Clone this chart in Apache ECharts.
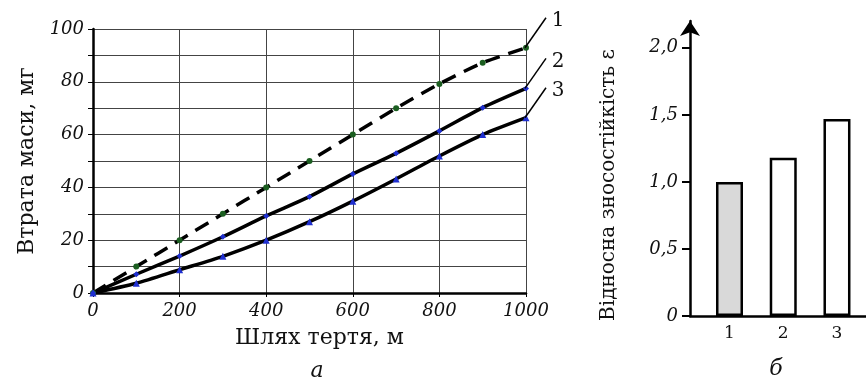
<!DOCTYPE html>
<html>
<head>
<meta charset="utf-8">
<script src="https://cdn.jsdelivr.net/npm/echarts@6/dist/echarts.min.js"></script>
<style>
  html, body { margin: 0; padding: 0; background: #fff; }
  #main { width: 866px; height: 381px; }
</style>
</head>
<body>
<div id="main"></div>
<script>
// шлях тертя, м
var distance = [0, 100, 200, 300, 400, 500, 600, 700, 800, 900, 1000];
// втрата маси, мг
var loss1 = [0, 10, 20, 30, 40, 50, 60, 70, 79.2, 87.2, 92.9];
var loss2 = [0, 7.1, 14.0, 21.3, 29.2, 36.5, 45.1, 52.9, 61.4, 70.2, 77.5];
var loss3 = [0, 3.7, 8.8, 13.9, 20.0, 27.0, 34.8, 43.2, 51.9, 60.0, 66.4];
var curveNames = ['1', '2', '3'];

// відносна зносостійкість
var barCats = [1, 2, 3];
var barValues = [1.0, 1.18, 1.47];
var barFills = ['#d9d9d9', '#ffffff', '#ffffff'];

var leftYLabels = [0, 20, 40, 60, 80, 100];
var rightYLabels = [0, 0.5, 1, 1.5, 2];

var serif = 'DejaVu Serif';

function pairs(xs, ys) {
  return xs.map(function (x, i) { return [x, ys[i]]; });
}

var chart = echarts.init(document.getElementById('main'));

var option = {
  animation: false,
  backgroundColor: '#fff',
  grid: [
    { left: 93, top: 29, width: 433, height: 264 },
    { left: 690, top: 21, width: 176, height: 295 }
  ],
  xAxis: [{
    gridIndex: 0,
    type: 'value',
    min: 0,
    max: 1000,
    interval: 200,
    name: 'Шлях тертя, м',
    nameLocation: 'middle',
    nameGap: 34,
    nameTextStyle: { fontFamily: serif, fontSize: 22, color: '#111', padding: [0, 0, 0, 20] },
    axisLine: { lineStyle: { color: '#000', width: 2.5 } },
    axisTick: { show: true, length: 4, lineStyle: { color: '#000', width: 1 } },
    axisLabel: {
      margin: 9, fontFamily: serif, fontStyle: 'italic', fontSize: 18, color: '#111',
      formatter: function (v) { return String(v); }
    },
    splitLine: { show: true, lineStyle: { color: '#444', width: 1 } }
  }, {
    gridIndex: 1,
    type: 'value',
    min: 0.265,
    max: 3.54,
    axisLine: { lineStyle: { color: '#000', width: 2.5 } },
    axisTick: { show: false },
    axisLabel: {
      customValues: barCats,
      margin: 9,
      fontFamily: serif,
      fontSize: 17,
      color: '#111'
    },
    splitLine: { show: false }
  }],
  yAxis: [{
    gridIndex: 0,
    type: 'value',
    min: 0,
    max: 100,
    interval: 10,
    name: 'Втрата маси, мг',
    nameLocation: 'middle',
    nameGap: 55,
    nameTextStyle: { fontFamily: serif, fontSize: 22, color: '#111' },
    axisLine: { show: true, lineStyle: { color: '#000', width: 2.5 } },
    axisTick: { show: true, length: 5, lineStyle: { color: '#000', width: 1 } },
    axisLabel: {
      customValues: leftYLabels,
      margin: 9,
      fontFamily: serif,
      fontStyle: 'italic',
      fontSize: 18,
      color: '#111'
    },
    splitLine: { show: true, lineStyle: { color: '#444', width: 1 } }
  }, {
    gridIndex: 1,
    type: 'value',
    min: 0,
    max: 2.2,
    axisLine: {
      show: true,
      symbol: ['none', 'arrow'],
      symbolSize: [15, 15],
      lineStyle: { color: '#000', width: 2.5 }
    },
    axisTick: {
      show: true,
      customValues: rightYLabels,
      length: 8,
      lineStyle: { color: '#000', width: 2 }
    },
    axisLabel: {
      customValues: rightYLabels,
      margin: 12,
      fontFamily: serif,
      fontStyle: 'italic',
      fontSize: 18,
      color: '#111',
      formatter: function (v) {
        return v === 0 ? '0' : v.toFixed(1).replace('.', ',');
      }
    },
    splitLine: { show: false }
  }],
  series: [{
    name: curveNames[0],
    type: 'line',
    smooth: 0.25,
    data: pairs(distance, loss1),
    symbol: 'circle',
    symbolSize: 6,
    itemStyle: { color: '#1b5e20' },
    lineStyle: { color: '#000', width: 3.5, type: [15, 9] },
    z: 3
  }, {
    name: curveNames[1],
    type: 'line',
    smooth: 0.25,
    data: pairs(distance, loss2),
    symbol: 'diamond',
    symbolSize: 6,
    itemStyle: { color: '#1f2fd0' },
    lineStyle: { color: '#000', width: 3.5 },
    z: 3
  }, {
    name: curveNames[2],
    type: 'line',
    smooth: 0.25,
    data: pairs(distance, loss3),
    symbol: 'triangle',
    symbolSize: 7,
    itemStyle: { color: '#1f2fd0' },
    lineStyle: { color: '#000', width: 3.5 },
    z: 3
  }, {
    type: 'bar',
    xAxisIndex: 1,
    yAxisIndex: 1,
    barWidth: 27,
    data: barCats.map(function (c, i) {
      return { value: [c, barValues[i]], itemStyle: { color: barFills[i] } };
    }),
    itemStyle: { borderColor: '#000', borderWidth: 2.5 }
  }]
};

chart.setOption(option);

// виноски з номерами кривих
var lastVals = [loss1, loss2, loss3].map(function (s) { return s[s.length - 1]; });
var graphics = [];
lastVals.forEach(function (v, i) {
  var p = chart.convertToPixel({ gridIndex: 0 }, [distance[distance.length - 1], v]);
  var ex = p[0] + 20, ey = p[1] - 30;
  graphics.push({
    type: 'line',
    shape: { x1: p[0] - 1, y1: p[1], x2: ex, y2: ey },
    style: { stroke: '#000', lineWidth: 1.5 },
    z: 10
  });
  graphics.push({
    type: 'text',
    x: ex + 12,
    y: ey + 3,
    style: {
      text: curveNames[i],
      font: '20px "DejaVu Serif"',
      fill: '#111',
      align: 'center',
      verticalAlign: 'middle'
    },
    z: 10
  });
});
graphics.push({
  type: 'text', x: 609, y: 185, rotation: Math.PI / 2,
  style: {
    text: 'Відносна зносостійкість ε', font: '20px "DejaVu Serif"', fill: '#111',
    align: 'center', verticalAlign: 'middle'
  }
});
graphics.push({
  type: 'text', x: 317, y: 371,
  style: { text: 'а', font: 'italic 22px "DejaVu Serif"', fill: '#111', align: 'center', verticalAlign: 'middle' }
});
graphics.push({
  type: 'text', x: 776, y: 369,
  style: { text: 'б', font: 'italic 22px "DejaVu Serif"', fill: '#111', align: 'center', verticalAlign: 'middle' }
});
chart.setOption({ graphic: graphics });
</script>
</body>
</html>
